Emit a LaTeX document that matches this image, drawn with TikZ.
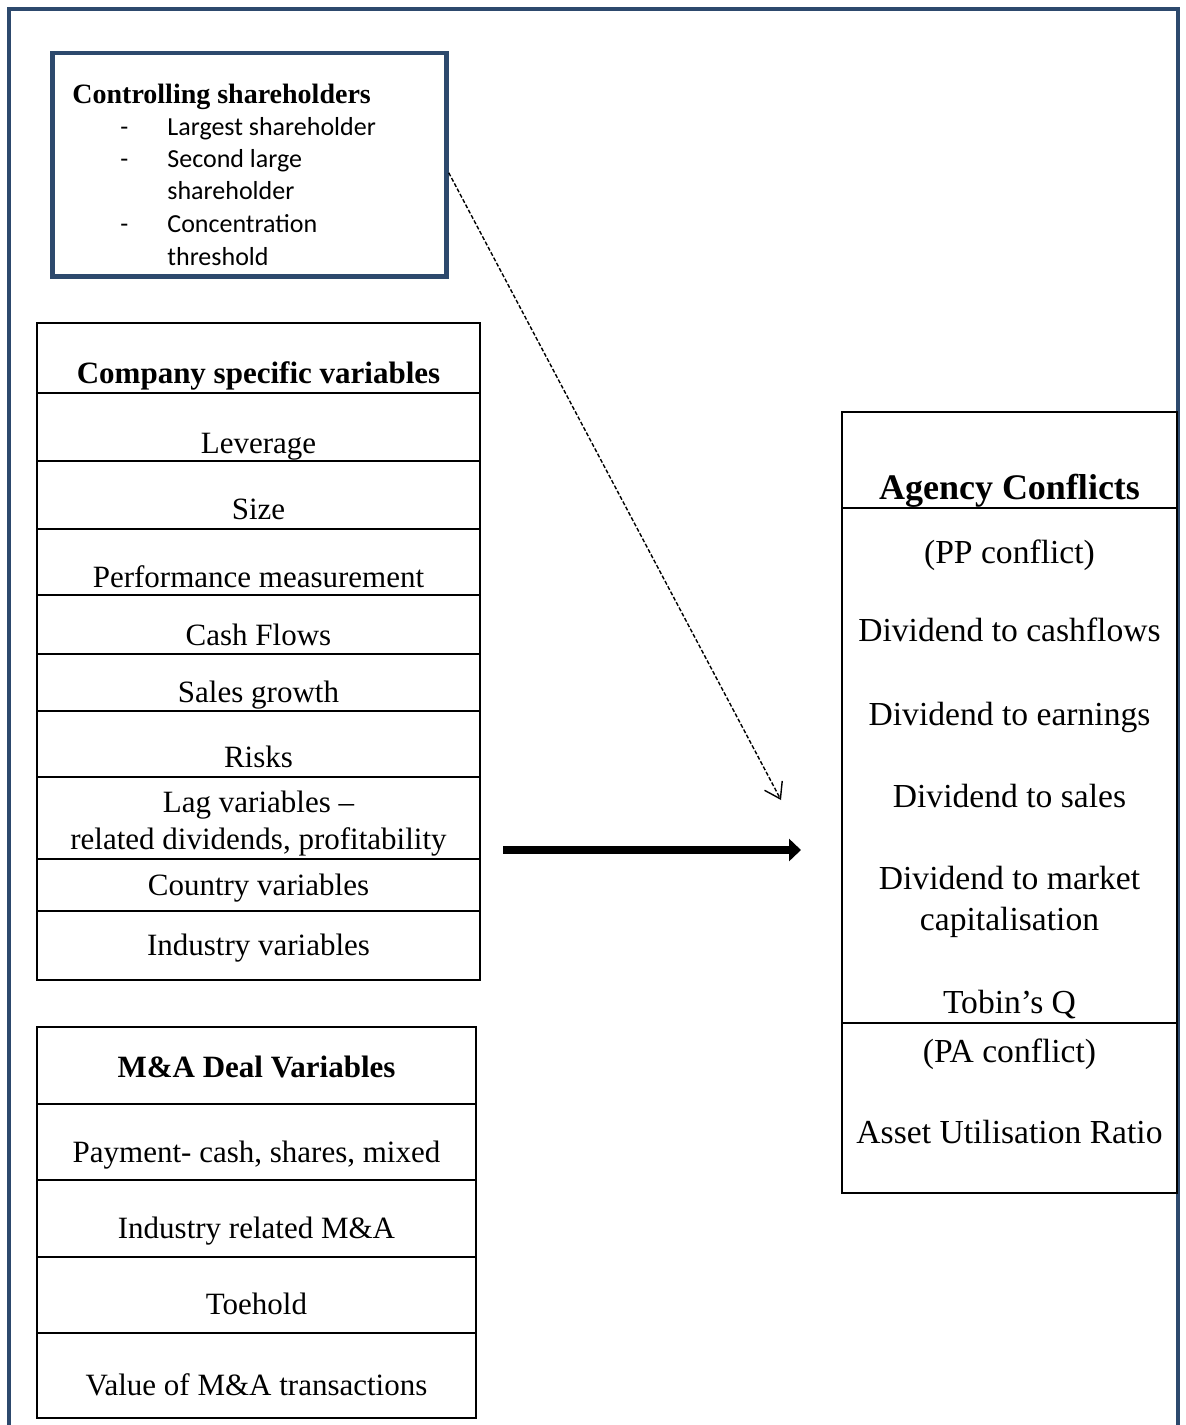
\documentclass[tikz,border=0pt]{standalone}
\usepackage{fontspec}
\setmainfont{Liberation Serif}
\newfontfamily\calibri{Carlito}
\usetikzlibrary{arrows.meta}
\definecolor{framecol}{RGB}{45,73,109}

\begin{document}
\begin{tikzpicture}[x=0.5pt,y=-0.5pt,
    cell/.style={anchor=base,inner sep=0pt,font=\fontsize{15.5}{18}\selectfont},
    head/.style={cell,font=\fontsize{15.5}{18}\selectfont\bfseries},
    accell/.style={cell,font=\fontsize{16.8}{19}\selectfont},
    item/.style={anchor=base west,inner sep=0pt,font=\calibri\fontsize{13}{16}\selectfont},
    grid/.style={line width=1pt}]
\useasboundingbox (0,0) rectangle (1185,1425);
\draw[framecol,line width=2.2pt] (9,1430) -- (9,9) -- (1178,9) -- (1178,1430);

\node[draw=framecol,line width=2.25pt,minimum width=197pt,minimum height=111.75pt,inner sep=0pt] (csbox) at (249.5,164.75) {};
\node[head,anchor=base west,font=\fontsize{14}{17}\selectfont\bfseries] (cshead) at (72,103) {Controlling shareholders};
\node[item] (dash1) at (120,135) {-};
\node[item] (dash2) at (120,167) {-};
\node[item] (dash3) at (120,232) {-};
\node[item] (largest) at (167,135) {Largest shareholder};
\node[item] (second) at (167,167) {Second large};
\node[item] (secondb) at (167,199) {shareholder};
\node[item] (conc) at (167,232) {Concentration};
\node[item] (concb) at (167,265) {threshold};

\draw[grid] (37,323) rectangle (480,980);
\foreach \y in {393,461,529,595,654,711,777,859,911}
  \draw[grid] (37,\y) -- (480,\y);
\node[head] (cvhead) at (258.5,383) {Company specific variables};
\node[cell] (lev) at (258.5,453) {Leverage};
\node[cell] (size) at (258.5,519) {Size};
\node[cell] (perf) at (258.5,587) {Performance measurement};
\node[cell] (cash) at (258.5,645) {Cash Flows};
\node[cell] (sales) at (258.5,702) {Sales growth};
\node[cell] (risk) at (258.5,767) {Risks};
\node[cell] (lag) at (258.5,812) {Lag variables --};
\node[cell] (lagrel) at (258.5,849) {related dividends, profitability};
\node[cell] (ctry) at (258.5,895) {Country variables};
\node[cell] (indv) at (258.5,955) {Industry variables};

\draw[grid] (37,1027) rectangle (476,1418);
\foreach \y in {1104,1180,1257,1333}
  \draw[grid] (37,\y) -- (476,\y);
\node[head] (mahead) at (256.5,1077) {M\&A Deal Variables};
\node[cell] (pay) at (256.5,1162) {Payment- cash, shares, mixed};
\node[cell] (indrel) at (256.5,1238) {Industry related M\&A};
\node[cell] (toe) at (256.5,1314) {Toehold};
\node[cell] (val) at (256.5,1395) {Value of M\&A transactions};

\draw[grid] (842,412) rectangle (1177,1193);
\draw[grid] (842,508) -- (1177,508);
\draw[grid] (842,1023) -- (1177,1023);
\node[head,font=\fontsize{18}{21}\selectfont\bfseries] (achead) at (1009.5,499) {Agency Conflicts};
\node[accell] (pp) at (1009.5,563) {(PP conflict)};
\node[accell] (dcf) at (1009.5,641) {Dividend to cashflows};
\node[accell] (dearn) at (1009.5,725) {Dividend to earnings};
\node[accell] (dsales) at (1009.5,807) {Dividend to sales};
\node[accell] (dmkt) at (1009.5,889) {Dividend to market};
\node[accell] (dmktb) at (1009.5,930) {capitalisation};
\node[accell] (tobin) at (1009.5,1013) {Tobin's Q};
\node[accell] (pa) at (1009.5,1062) {(PA conflict)};
\node[accell] (aur) at (1009.5,1143) {Asset Utilisation Ratio};

\coordinate (dashtip) at (781,800);
\coordinate (thickfrom) at (503,850);
\coordinate (thickto) at (801,850);
\draw[line width=0.7pt,dash pattern=on 2pt off 1pt,-{Straight Barb[length=7.5pt,width=10pt]}] ([yshift=-4pt]csbox.east) -- (dashtip);
\draw[line width=4pt,-{Triangle[length=6pt,width=11pt]}] (thickfrom) -- (thickto);
\end{tikzpicture}
\end{document}
